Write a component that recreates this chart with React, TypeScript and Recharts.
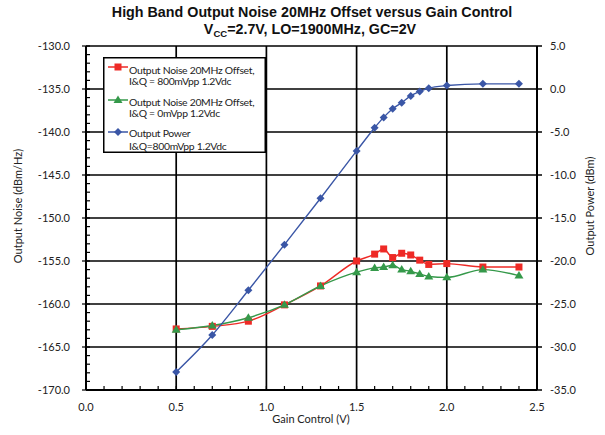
import React from 'react';
import { ComposedChart, Line, XAxis, YAxis, ReferenceLine } from 'recharts';

// gain control voltage (V), shared by all three curves
const gainControl = [0.5, 0.7, 0.9, 1.1, 1.3, 1.5, 1.6, 1.65, 1.7, 1.75, 1.8, 1.85, 1.9, 2.0, 2.2, 2.4];
// output noise at 20MHz offset (dBm/Hz), I&Q = 800mVpp
const noiseIQ800 = [-162.9, -162.6, -162.0, -160.1, -157.9, -155.0, -154.2, -153.6, -154.6, -154.1, -154.3, -154.9, -155.4, -155.3, -155.7, -155.7];
// output noise at 20MHz offset (dBm/Hz), I&Q = 0mVpp
const noiseIQ0 = [-163.0, -162.5, -161.6, -160.1, -157.9, -156.3, -155.8, -155.7, -155.5, -156.0, -156.2, -156.5, -156.8, -156.9, -156.0, -156.7];
// output power (dBm), right axis
const outputPower = [-32.9, -28.6, -23.4, -18.1, -12.7, -7.2, -4.5, -3.3, -2.3, -1.6, -0.8, -0.3, 0.1, 0.4, 0.6, 0.6];

const xGrid = [0.5, 1.0, 1.5, 2.0, 2.5];
const noiseGrid = [-165, -160, -155, -150, -145, -140, -135, -130];
const powerTicks = [-35, -30, -25, -20, -15, -10, -5, 0, 5];

const xTicks = Array.from({ length: 26 }, (_, i) => i / 10);
const noiseTicks = Array.from({ length: 41 }, (_, i) => -170 + i);

const data = gainControl.map((g, i) => ({
  g,
  n800: noiseIQ800[i],
  n0: noiseIQ0[i],
  pwr: outputPower[i],
}));

const RED = '#ee2a26';
const GREEN = '#35994a';
const BLUE = '#3a56a6';
const FONT = 'Lato, "Noto Sans", sans-serif';

const XTick = ({ x, y, payload }: any) => {
  const v = payload.value;
  const major = Math.abs(v * 2 - Math.round(v * 2)) < 1e-6;
  return (
    <g>
      <line x1={x} x2={x} y1={y} y2={y - 4} stroke="#000" strokeWidth={1.2} />
      {major && (
        <text x={x} y={y + 21} textAnchor="middle" fontSize={11} fontFamily={FONT} fill="#222">
          {v.toFixed(1)}
        </text>
      )}
    </g>
  );
};

const NoiseTick = ({ x, y, payload }: any) => {
  const v = payload.value;
  const major = v % 5 === 0;
  return (
    <g>
      <line x1={major ? x - 4 : x} x2={x + 4} y1={y} y2={y} stroke="#000" strokeWidth={1.2} />
      {major && (
        <text x={x - 16} y={y + 4} textAnchor="end" fontSize={11} fontFamily={FONT} fill="#222">
          {v.toFixed(1)}
        </text>
      )}
    </g>
  );
};

const PowerTick = ({ x, y, payload }: any) => (
  <g>
    <line x1={x} x2={x + 5} y1={y} y2={y} stroke="#000" strokeWidth={1.5} />
    <text x={x + 13} y={y + 4} textAnchor="start" fontSize={11} fontFamily={FONT} fill="#222">
      {payload.value.toFixed(1)}
    </text>
  </g>
);

const Square = ({ cx, cy, index }: any) =>
  cx == null ? null : <rect key={index} x={cx - 3.5} y={cy - 3.5} width={7} height={7} fill={RED} />;

const Triangle = ({ cx, cy, index }: any) =>
  cx == null ? null : (
    <polygon key={index} points={`${cx},${cy - 4.5} ${cx + 4.5},${cy + 3} ${cx - 4.5},${cy + 3}`} fill={GREEN} />
  );

const Diamond = ({ cx, cy, index }: any) =>
  cx == null ? null : (
    <polygon key={index} points={`${cx},${cy - 4} ${cx + 4},${cy} ${cx},${cy + 4} ${cx - 4},${cy}`} fill={BLUE} />
  );

const LegendBox = () => (
  <svg
    width={163}
    height={96}
    style={{ position: 'absolute', left: 103, top: 57, background: '#fff', overflow: 'visible' }}
  >
    <rect x={0.75} y={0.75} width={161.5} height={94.5} fill="#fff" stroke="#000" strokeWidth={1.5} />
    <g fontFamily={FONT} fontSize={10.4} letterSpacing={-0.3} fill="#222">
      <line x1={5} x2={25} y1={10} y2={10} stroke={RED} strokeWidth={1.5} />
      <rect x={11.5} y={6.5} width={7} height={7} fill={RED} />
      <text x={26} y={17}>Output Noise 20MHz Offset,</text>
      <text x={26} y={28}>I&amp;Q = 800mVpp 1.2Vdc</text>

      <line x1={5} x2={25} y1={43} y2={43} stroke={GREEN} strokeWidth={1.5} />
      <polygon points="15,38.5 19.5,46 10.5,46" fill={GREEN} />
      <text x={26} y={49}>Output Noise 20MHz Offset,</text>
      <text x={26} y={60}>I&amp;Q = 0mVpp 1.2Vdc</text>

      <line x1={5} x2={25} y1={75} y2={75} stroke={BLUE} strokeWidth={1.5} />
      <polygon points="15,71 19,75 15,79 11,75" fill={BLUE} />
      <text x={26} y={80}>Output Power</text>
      <text x={26} y={93}>I&amp;Q=800mVpp 1.2Vdc</text>
    </g>
  </svg>
);

export default function App() {
  return (
    <div style={{ position: 'absolute', left: 0, top: 0, width: 605, height: 435, background: '#fff' }}>
      <ComposedChart width={605} height={435} data={data} margin={{ top: 46, right: 0, bottom: 0, left: 0 }}>
        <XAxis
          dataKey="g"
          type="number"
          domain={[0, 2.5]}
          ticks={xTicks}
          interval={0}
          tickSize={0}
          tickMargin={0}
          tickLine={false}
          tick={(p: any) => <XTick {...p} />}
          height={45}
          axisLine={{ stroke: '#000', strokeWidth: 2 }}
        />
        <YAxis
          yAxisId="left"
          orientation="left"
          width={86}
          domain={[-170, -130]}
          ticks={noiseTicks}
          interval={0}
          tickSize={0}
          tickMargin={0}
          tickLine={false}
          tick={(p: any) => <NoiseTick {...p} />}
          axisLine={{ stroke: '#000', strokeWidth: 2 }}
        />
        <YAxis
          yAxisId="right"
          orientation="right"
          width={68}
          domain={[-35, 5]}
          ticks={powerTicks}
          interval={0}
          tickSize={0}
          tickMargin={0}
          tickLine={false}
          tick={(p: any) => <PowerTick {...p} />}
          axisLine={{ stroke: '#000', strokeWidth: 2 }}
        />
        {noiseGrid.map((v) => (
          <ReferenceLine key={`h${v}`} yAxisId="left" y={v} stroke="#000" strokeWidth={1.7} />
        ))}
        {xGrid.map((v) => (
          <ReferenceLine key={`v${v}`} yAxisId="left" x={v} stroke="#000" strokeWidth={1.7} />
        ))}
        <Line
          yAxisId="left"
          dataKey="n800"
          type="monotone"
          stroke={RED}
          strokeWidth={1.4}
          dot={(p: any) => <Square key={p.index} {...p} />}
          isAnimationActive={false}
        />
        <Line
          yAxisId="left"
          dataKey="n0"
          type="monotone"
          stroke={GREEN}
          strokeWidth={1.4}
          dot={(p: any) => <Triangle key={p.index} {...p} />}
          isAnimationActive={false}
        />
        <Line
          yAxisId="right"
          dataKey="pwr"
          type="monotone"
          stroke={BLUE}
          strokeWidth={1.4}
          dot={(p: any) => <Diamond key={p.index} {...p} />}
          isAnimationActive={false}
        />
      </ComposedChart>
      <LegendBox />
      <svg width={605} height={435} style={{ position: 'absolute', left: 0, top: 0, pointerEvents: 'none' }}>
        <text x={312} y={17} textAnchor="middle" fontFamily="'Liberation Sans', Arial, sans-serif" fontWeight="bold" fontSize={14.3} fill="#111">
          High Band Output Noise 20MHz Offset versus Gain Control
        </text>
        <text x={310} y={34} textAnchor="middle" fontFamily="'Liberation Sans', Arial, sans-serif" fontWeight="bold" fontSize={14.3} fill="#111">
          V<tspan fontSize={9.5} dy={3}>CC</tspan>
          <tspan dy={-3}>=2.7V, LO=1900MHz, GC=2V</tspan>
        </text>
        <text x={311} y={423} textAnchor="middle" fontFamily={FONT} fontSize={11} fill="#222">
          Gain Control (V)
        </text>
        <text
          x={0}
          y={0}
          transform="translate(22,206) rotate(-90)"
          textAnchor="middle"
          fontFamily={FONT}
          fontSize={11}
          fill="#222"
        >
          Output Noise (dBm/Hz)
        </text>
        <text
          x={0}
          y={0}
          transform="translate(594,206) rotate(-90)"
          textAnchor="middle"
          fontFamily={FONT}
          fontSize={11}
          fill="#222"
        >
          Output Power (dBm)
        </text>
      </svg>
    </div>
  );
}
